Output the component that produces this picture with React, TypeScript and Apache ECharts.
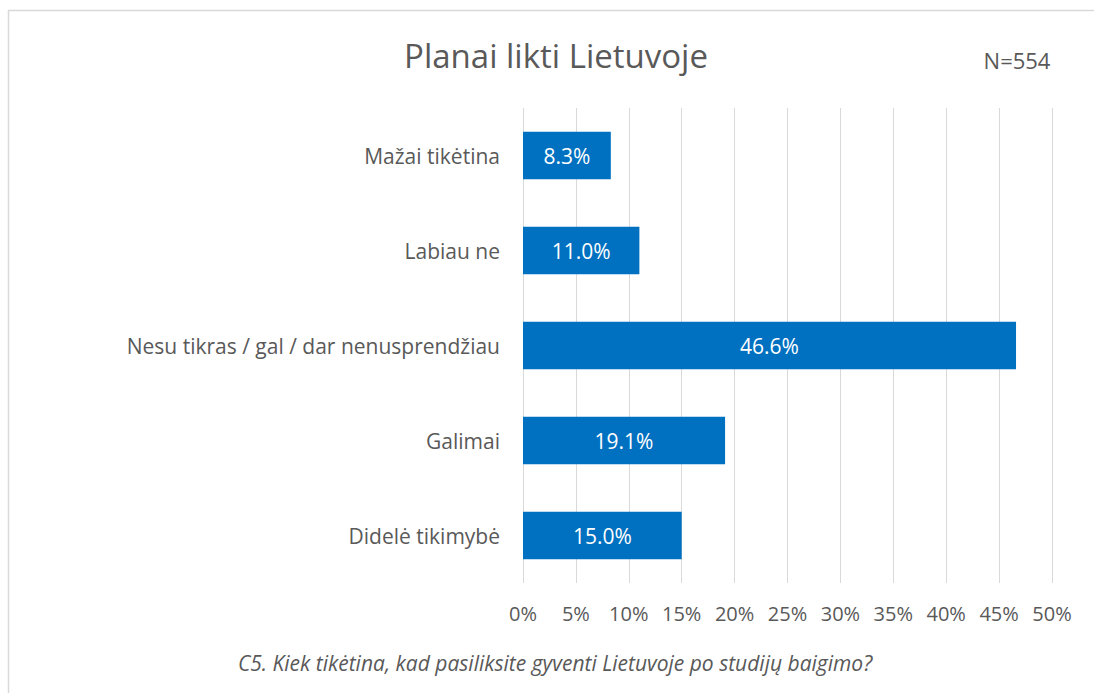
import React, { useEffect, useRef } from "react";
import * as echarts from "echarts";

const categories = [
  "Didelė tikimybė",
  "Galimai",
  "Nesu tikras / gal / dar nenusprendžiau",
  "Labiau ne",
  "Mažai tikėtina",
];
const values = [15.0, 19.1, 46.6, 11.0, 8.3];
const titleText = "Planai likti Lietuvoje";
const nText = "N=554";
const captionText = "C5. Kiek tikėtina, kad pasiliksite gyventi Lietuvoje po studijų baigimo?";

const FONT = "'Open Sans', sans-serif";
const TEXT = "#595959";

export default function App() {
  const ref = useRef<HTMLDivElement>(null);
  useEffect(() => {
    if (!ref.current) return;
    document.body.style.margin = "0";
    document.body.style.overflow = "hidden";
    const chart = echarts.init(ref.current, undefined, { renderer: "svg" });
    chart.setOption({
      animation: false,
      backgroundColor: "#fff",
      grid: { left: 523, right: 42, top: 108, bottom: 110, containLabel: false },
      xAxis: {
        type: "value",
        min: 0,
        max: 50,
        interval: 5,
        axisLabel: {
          formatter: "{value}%",
          color: TEXT,
          fontFamily: FONT,
          fontSize: 20,
          margin: 20,
        },
        axisLine: { show: false },
        axisTick: { show: false },
        splitLine: { show: true, lineStyle: { color: "#d9d9d9", width: 1 } },
      },
      yAxis: {
        type: "category",
        data: categories,
        axisLine: { show: false },
        axisTick: { show: false },
        axisLabel: { color: TEXT, fontFamily: FONT, fontSize: 21, margin: 23 },
      },
      series: [
        {
          type: "bar",
          data: values,
          barCategoryGap: "50%",
          itemStyle: { color: "#0070C0" },
          label: {
            show: true,
            position: "inside",
            color: "#fff",
            fontFamily: FONT,
            fontSize: 21,
            formatter: (p: any) => p.value.toFixed(1) + "%",
          },
        },
      ],
      graphic: [
        {
          type: "rect",
          silent: true,
          shape: { x: 8.5, y: 10.5, width: 1200, height: 800 },
          style: { fill: "none", stroke: "#d9d9d9", lineWidth: 1.5 },
        },
        {
          type: "text",
          x: 556,
          y: 55,
          style: {
            text: titleText,
            fill: TEXT,
            font: `33px ${FONT}`,
            textAlign: "center",
            textVerticalAlign: "middle",
          },
        },
        {
          type: "text",
          x: 1017,
          y: 60,
          style: {
            text: nText,
            fill: TEXT,
            font: `22px ${FONT}`,
            textAlign: "center",
            textVerticalAlign: "middle",
          },
        },
        {
          type: "text",
          x: 555,
          y: 663,
          style: {
            text: captionText,
            fill: TEXT,
            font: `italic 21px ${FONT}`,
            textAlign: "center",
            textVerticalAlign: "middle",
          },
        },
      ],
    });
    return () => chart.dispose();
  }, []);
  return <div ref={ref} style={{ width: 1094, height: 693 }} />;
}
